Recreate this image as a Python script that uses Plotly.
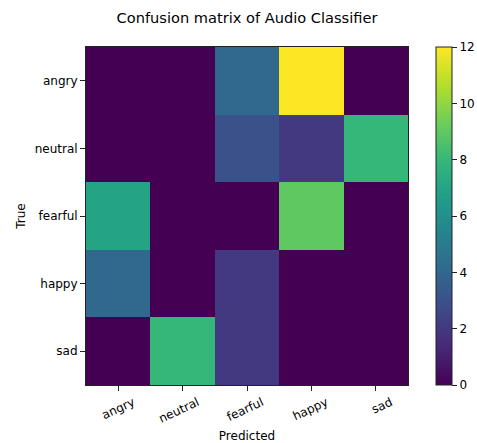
import plotly.graph_objects as go

labels = ["angry", "neutral", "fearful", "happy", "sad"]
z = [
    [0, 0, 4, 12, 0],
    [0, 0, 3, 2, 8],
    [7, 0, 0, 9, 0],
    [4, 0, 2, 0, 0],
    [0, 8, 2, 0, 0],
]

font = "DejaVu Sans"
W, H = 477, 443
fig = go.Figure(go.Heatmap(
    z=z, x=labels, y=labels, colorscale="Viridis", zmin=0, zmax=12,
    xgap=0, ygap=0,
    colorbar=dict(
        x=1.087, xanchor="left", y=0.5, yanchor="middle", len=1, lenmode="fraction",
        thickness=16, thicknessmode="pixels", outlinewidth=1, outlinecolor="#222",
        tickvals=[0, 2, 4, 6, 8, 10, 12], ticks="outside", ticklen=5,
        tickcolor="#222", tickfont=dict(family=font, size=12, color="#000"),
        xpad=0, ypad=0,
    ),
    hovertemplate="%{y} → %{x}: %{z}<extra></extra>",
))
fig.update_layout(
    width=W, height=H,
    margin=dict(l=86, r=69, t=47, b=58, autoexpand=False),
    paper_bgcolor="white", plot_bgcolor="white",
    title=dict(text="Confusion matrix of Audio Classifier", x=0.5, xref="paper",
               xanchor="center", y=1 - 17.5 / H, yref="container", yanchor="middle",
               font=dict(family=font, size=14.6, color="#000")),
    font=dict(family=font, size=12, color="#000"),
)
fig.update_xaxes(title=dict(text="Predicted", font=dict(size=12), standoff=6),
                 tickangle=-25, ticks="outside", ticklen=5, tickcolor="#222",
                 ticklabelshift=15,
                 showline=True, linecolor="#222", linewidth=1, mirror=True,
                 showgrid=False, zeroline=False, automargin=False)
fig.update_yaxes(title=dict(text="True", font=dict(size=12), standoff=6),
                 autorange="reversed", ticks="outside", ticklen=5, tickcolor="#222",
                 showline=True, linecolor="#222", linewidth=1, mirror=True,
                 showgrid=False, zeroline=False, automargin=False)
fig.write_html(
    "out.html",
    config={"displayModeBar": False},
    post_script="document.body.style.margin='0';document.body.style.overflow='hidden';",
)
